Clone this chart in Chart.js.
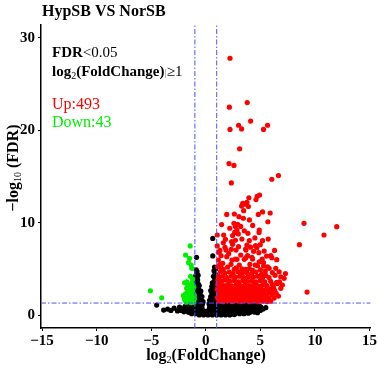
<!DOCTYPE html>
<html>
<head>
<meta charset="utf-8">
<script src="https://cdn.jsdelivr.net/npm/chart.js@4"></script>
<style>
  body { margin: 0; background: #fff; }
  #wrap { width: 378px; height: 369px; }
</style>
</head>
<body>
<div id="wrap"><canvas id="volcano" width="378" height="369"></canvas></div>
<script>
// volcano plot: HypSB vs NorSB
const xTicks = [-15, -10, -5, 0, 5, 10, 15];
const yTicks = [0, 10, 20, 30];
const xRange = [-15.1, 15.1];
const yRange = [-1.4, 31.4];
const fcCut = 1;      // |log2 FC| >= 1
const fdrCut = 0.05;  // FDR < 0.05
const upCount = 493;
const downCount = 43;

// up-regulated genes [log2FC, -log10 FDR]
const upGenes = [
  [2.22,27.8],[3.80,23.0],[2.16,22.5],[4.11,21.0],[3.01,20.55],[3.28,20.15],[2.22,20.1],[5.66,20.55],[5.29,20.1],
  [3.10,18.0],[2.13,16.4],[2.58,16.2],[6.66,15.1],[6.05,14.7],[2.34,14.3],[9.0,9.93],[12.0,9.57],[10.83,8.67],
  [8.58,7.62],[9.28,2.49],
  [4.93,13.0],[4.71,12.85],[4.6,12.5],[3.95,12.7],[3.77,12.2],[3.38,12.1],[3.28,11.8],[3.62,12.0],[3.9,11.75],
  [3.47,11.3],[1.92,10.9],[2.62,10.94],[3.04,10.65],[3.44,10.48],[4.81,10.9],[5.2,11.16],[5.9,11.05],[5.69,10.1],
  [2.58,9.93],[2.92,9.83],[2.71,9.6],[2.86,9.2],[2.65,8.95],[3.53,9.13],[3.86,8.85],[4.9,9.2],[4.88,8.95],
  [1.05,8.67],[1.64,8.67],[2.46,8.6],[2.98,8.78],[5.72,8.23],[3.31,8.23],[4.0,10.3],[3.2,9.6],[2.2,9.4],
  [4.3,9.7],[1.45,9.8],
  [2.71,8.1],[3.99,8.05],[5.2,8.05],[1.76,7.33],[1.61,7.83],[2.37,7.94],[1.05,7.48],[1.85,7.04],[2.77,7.04],
  [3.68,7.04],[4.68,7.29],[5.35,6.93],[2.46,7.66],[3.77,7.58],[4.56,7.51],[4.99,7.62],[2.34,7.12],[3.65,7.15],
  [4.38,6.9],[4.86,6.75],[5.57,6.39],[5.96,6.43],[5.17,6.07],[3.83,6.43],[4.23,6.25],[3.53,6.03],[1.4,6.43],
  [1.92,6.32],[2.71,6.07],[3.68,6.21],[4.29,6.07],[4.9,5.77],[6.05,6.21],[1.16,5.96],[2.4,5.96],[2.86,6.03],
  [1.55,5.6],[2.31,5.49],[3.07,5.42],[4.04,5.49],[4.74,5.34],[5.66,5.23],[6.41,5.06],[1.09,5.23],[2.8,5.1],
  [3.99,5.02],[4.53,5.42],[5.29,5.67],[5.81,5.06],[6.72,4.69],[6.87,4.15],[7.18,3.98],[7.02,3.25],[6.87,2.89],
  [6.66,2.06],[6.27,1.84],[1.4,5.12],[1.16,4.22],[1.09,3.33],
  [1.3,5.5],[2.0,5.2],[3.3,5.0],[4.3,4.85],[5.0,4.9],[1.6,4.95],[2.6,4.95],[3.65,4.95],[5.45,4.75],[6.1,4.6],
  [6.2,3.0],[6.75,3.6],[5.3,5.3],[2.1,6.65],[3.2,6.5],[3.0,7.4],[4.1,7.35],[1.3,7.0],[1.8,8.2],[4.5,8.35],
  [6.3,7.0],[6.5,6.0],[7.3,4.5],[1.15,6.8],
  [1.35,4.7],[1.75,4.55],[2.15,4.65],[2.5,4.5],[2.95,4.7],[3.35,4.55],[3.75,4.6],[4.2,4.5],[4.6,4.65],[5.1,4.4],[5.5,4.3],
  [1.2,4.1],[1.55,4.2],[1.95,4.05],[2.35,4.2],[2.7,4.1],[3.1,4.2],[3.5,4.05],[3.9,4.15],[4.35,4.1],[4.75,4.2],
  [5.2,4.0],[5.8,4.05],[6.35,4.3],
  [1.1,3.75],[1.45,3.65],[1.8,3.8],[2.2,3.65],[2.6,3.75],[3.0,3.6],[3.4,3.75],[3.8,3.65],[4.2,3.7],[4.6,3.6],
  [5.0,3.75],[5.4,3.6],[5.95,3.65],[6.5,3.55],
  [1.25,3.25],[1.65,3.2],[2.0,3.3],[2.4,3.15],[2.8,3.3],[3.2,3.2],[3.6,3.3],[4.0,3.2],[4.4,3.3],[4.8,3.15],
  [5.2,3.25],[5.6,3.2],[6.1,3.3],[6.55,3.4],
  [1.3,3.0],[1.7,3.02],[2.1,2.98],[2.5,3.02],[2.9,3.0],[3.3,2.98],[3.7,3.02],[4.1,3.0],[4.5,2.98],[4.9,3.02],
  [1.05,2.8],[1.45,2.75],[1.85,2.85],[2.25,2.75],[2.65,2.85],[3.05,2.7],[3.45,2.85],[3.85,2.75],[4.25,2.85],
  [4.65,2.7],[5.05,2.8],[5.45,2.75],[5.85,2.85],[6.3,2.7],
  [1.4,2.55],[1.8,2.58],[2.2,2.52],[2.6,2.56],[3.0,2.55],[3.4,2.53],[3.8,2.57],[4.2,2.55],[4.6,2.52],[5.0,2.56],
  [5.4,2.55],[5.8,2.6],
  [1.2,2.35],[1.6,2.3],[2.0,2.4],[2.4,2.3],[2.8,2.4],[3.2,2.3],[3.6,2.4],[4.0,2.3],[4.4,2.4],[4.8,2.3],
  [5.2,2.4],[5.6,2.3],[6.0,2.4],[6.45,2.35],
  [1.2,2.12],[1.6,2.1],[2.0,2.15],[2.4,2.08],[2.8,2.12],[3.2,2.1],[3.6,2.12],[4.0,2.1],[4.4,2.12],[4.8,2.1],
  [5.2,2.12],[5.6,2.1],
  [1.05,1.9],[1.4,1.95],[1.8,1.85],[2.2,1.95],[2.6,1.85],[3.0,1.95],[3.4,1.85],[3.8,1.95],[4.2,1.85],[4.6,1.95],
  [5.0,1.85],[5.4,1.95],[5.8,1.85],[6.1,2.2],
  [1.4,1.7],[1.8,1.68],[2.2,1.72],[2.6,1.7],[3.0,1.68],[3.4,1.72],[3.8,1.7],[4.2,1.7],[4.6,1.68],[5.0,1.72],[5.4,1.7],
  [1.2,1.5],[1.6,1.45],[2.0,1.55],[2.4,1.45],[2.8,1.55],[3.2,1.45],[3.6,1.55],[4.0,1.45],[4.4,1.55],[4.8,1.45],
  [5.2,1.5],[5.6,1.45],[5.95,1.5]
];

// down-regulated genes
const downGenes = [
  [-5.08,2.63],[-4.04,1.87],
  [-1.43,7.48],[-1.85,6.5],[-1.49,6.14],[-1.58,5.67],[-1.34,5.42],[-1.28,5.06],[-1.94,3.5],[-1.28,3.5],
  [-1.43,3.07],[-1.75,2.9],[-1.2,2.7],[-1.6,2.6],[-1.35,2.45],[-1.85,2.3],[-1.1,2.25],[-1.5,2.15],[-1.25,1.95],
  [-1.7,1.9],[-1.05,1.75],[-1.45,1.7],[-1.9,1.6],[-1.2,1.5],[-1.6,1.45],[-1.35,1.35],[-1.1,1.4],[-1.8,1.4],
  [-1.5,2.6],[-1.15,3.2],[-1.65,3.3],[-1.5,2.95],[-1.3,2.25],[-1.95,1.75],[-2.05,2.1],[-1.7,2.4],[-1.1,3.0],
  [-1.55,1.9],[-1.3,1.65],[-1.05,2.1],[-1.75,3.6],[-1.2,3.9],[-1.4,4.2]
];

// not significant
const otherGenes = [
  [-4.5,1.08],[-3.86,0.54],[-3.5,0.65],[-3.2,0.5],[-2.9,0.75],[-2.6,0.45],[-2.4,0.85],[-2.2,0.6],[-2.0,0.35],
  [-1.9,0.95],[-1.75,0.55],[-1.6,1.15],[-1.5,0.3],[-1.4,0.75],[-1.3,1.2],[-1.2,0.45],
  [-1.1,1.2],[-0.7,1.2],[-0.3,1.2],[0.3,1.2],[0.7,1.2],[1.1,1.2],[1.5,1.2],[1.9,1.2],[2.3,1.2],[2.7,1.2],
  [3.1,1.2],[3.5,1.2],[3.9,1.2],[4.3,1.2],[4.7,1.15],
  [-1.7,1.03],[-1.3,1.03],[-0.9,1.03],[-0.5,1.03],[0.5,1.03],[0.9,1.03],[1.3,1.03],[1.7,1.03],[2.1,1.03],
  [2.5,1.03],[2.9,1.03],[3.3,1.03],[3.7,1.03],[4.1,1.03],[4.5,1.03],[4.9,1.0],
  [-1.9,0.85],[-1.5,0.85],[-1.1,0.85],[-0.7,0.85],[-0.35,0.85],[0.35,0.85],[0.7,0.85],[1.05,0.85],[1.45,0.85],
  [1.85,0.85],[2.25,0.85],[2.65,0.85],[3.05,0.85],[3.45,0.85],[3.85,0.85],[4.25,0.85],[4.65,0.85],[5.05,0.85],
  [5.5,0.8],
  [-2.1,0.68],[-1.6,0.68],[-1.2,0.68],[-0.8,0.68],[-0.45,0.68],[0.45,0.68],[0.85,0.68],[1.25,0.68],[1.65,0.68],
  [2.05,0.68],[2.45,0.68],[2.85,0.68],[3.25,0.68],[3.65,0.68],[4.05,0.68],[4.45,0.68],[4.85,0.68],[5.25,0.65],
  [-2.3,0.5],[-1.8,0.5],[-1.4,0.5],[-1.0,0.5],[-0.6,0.5],[-0.25,0.5],[0.25,0.5],[0.6,0.5],[1.0,0.5],[1.4,0.5],
  [1.8,0.5],[2.2,0.5],[2.6,0.5],[3.0,0.5],[3.4,0.5],[3.8,0.5],[4.2,0.5],[4.6,0.45],[5.0,0.5],
  [-1.6,0.32],[-1.1,0.32],[-0.7,0.32],[-0.3,0.32],[0.1,0.32],[0.5,0.32],[0.9,0.32],[1.3,0.32],[1.7,0.32],
  [2.1,0.32],[2.5,0.32],[2.9,0.32],[3.3,0.32],[3.7,0.32],[4.1,0.32],[4.45,0.32],
  [-1.3,0.15],[-0.9,0.15],[-0.5,0.15],[-0.1,0.15],[0.3,0.15],[0.7,0.15],[1.1,0.15],[1.5,0.15],[1.9,0.15],
  [2.3,0.15],[2.7,0.15],[3.1,0.15],[3.5,0.15],[3.9,0.2],[4.74,0.25],[0.05,0.4],
  [-0.6,0.02],[-0.2,0.02],[0.2,0.02],[0.6,0.02],[1.0,0.02],[1.4,0.02],[1.8,0.02],[2.2,0.02],[2.6,0.05],
  [-1.0,1.6],[-0.7,1.6],[-0.4,1.6],[-0.95,2.0],[-0.65,2.0],[-0.35,2.0],[-0.9,2.4],[-0.6,2.4],[-0.95,2.8],
  [-0.65,2.8],[-0.85,3.2],[-0.6,3.2],[-0.9,3.6],[-0.8,4.0],[-0.85,4.5],[-0.88,4.9],[-0.85,6.25],
  [-1.1,1.45],[-0.85,1.8],[-0.55,1.8],[-0.25,1.45],[-1.05,2.2],[-0.8,2.2],[-0.5,2.2],[-0.75,2.6],[-1.0,2.6],
  [-0.45,2.6],[-0.8,3.0],[-1.0,3.4],[-0.7,3.4],[-0.75,3.8],[-0.95,4.2],[-0.7,4.3],[-0.8,4.7],
  [0.35,1.6],[0.65,1.6],[0.95,1.6],[0.45,2.0],[0.8,2.0],[0.55,2.4],[0.9,2.4],[0.6,2.8],[0.9,2.8],[0.7,3.2],
  [0.95,3.2],[0.75,3.6],[0.8,4.0],[0.85,4.5],[0.8,5.2],[0.64,6.4],[0.64,8.3],
  [0.5,1.45],[0.8,1.8],[0.5,1.8],[0.65,2.2],[0.95,2.15],[0.75,2.6],[0.45,2.65],[0.8,3.0],[0.55,3.1],[0.85,3.4],
  [0.6,3.5],[0.9,3.8],[0.7,4.2],[0.95,4.3],[0.75,4.8],[0.9,5.0]
];

const toXY = (arr) => arr.map((p) => ({ x: p[0], y: p[1] }));
const fdrLine = -Math.log10(fdrCut);

const serif = "'Liberation Serif', 'Times New Roman', serif";

function drawRuns(ctx, x, y, runs) {
  runs.forEach((r) => {
    ctx.font = r.f;
    ctx.fillStyle = r.c || "#000";
    ctx.fillText(r.t, x, y + (r.dy || 0));
    x += ctx.measureText(r.t).width;
  });
}
function runsWidth(ctx, runs) {
  let w = 0;
  runs.forEach((r) => {
    ctx.font = r.f;
    w += ctx.measureText(r.t).width;
  });
  return w;
}

const textPlugin = {
  id: "texts",
  afterDraw(chart) {
    const ctx = chart.ctx;
    ctx.save();
    ctx.textBaseline = "alphabetic";
    ctx.textAlign = "left";

    // title
    drawRuns(ctx, 42, 16, [{ t: "HypSB VS NorSB", f: "bold 16px " + serif }]);

    // annotations
    drawRuns(ctx, 52, 57, [
      { t: "FDR", f: "bold 15px " + serif },
      { t: "<0.05", f: "15px " + serif },
    ]);
    drawRuns(ctx, 52, 76, [
      { t: "log", f: "bold 15px " + serif },
      { t: "2", f: "10px " + serif, dy: 3 },
      { t: "(FoldChange)", f: "bold 15px " + serif },
      { t: "|", f: "11px " + serif, c: "#888" },
      { t: "≥1", f: "15px " + serif },
    ]);
    drawRuns(ctx, 52, 109, [{ t: "Up:" + upCount, f: "16px " + serif, c: "#ff0000" }]);
    drawRuns(ctx, 52, 127, [{ t: "Down:" + downCount, f: "16px " + serif, c: "#00ee00" }]);

    // x axis title
    const xr = [
      { t: "log", f: "bold 16px " + serif },
      { t: "2", f: "10px " + serif, dy: 3 },
      { t: "(FoldChange)", f: "bold 16px " + serif },
    ];
    drawRuns(ctx, 206 - runsWidth(ctx, xr) / 2, 360, xr);

    // y axis title
    const yr = [
      { t: "−log", f: "bold 16px " + serif },
      { t: "10", f: "10px " + serif, dy: 3 },
      { t: " (FDR)", f: "bold 16px " + serif },
    ];
    ctx.translate(18, 168);
    ctx.rotate(-Math.PI / 2);
    drawRuns(ctx, -runsWidth(ctx, yr) / 2, 0, yr);
    ctx.restore();
  },
};

const cutStyle = {
  type: "scatter",
  showLine: true,
  pointRadius: 0,
  borderColor: "rgb(80,80,255)",
  borderWidth: 1,
  borderDash: [5, 2, 1.5, 2],
  order: 0,
};

new Chart(document.getElementById("volcano"), {
  type: "scatter",
  data: {
    datasets: [
      { ...cutStyle, data: [{ x: -fcCut, y: yRange[0] }, { x: -fcCut, y: yRange[1] }] },
      { ...cutStyle, data: [{ x: fcCut, y: yRange[0] }, { x: fcCut, y: yRange[1] }] },
      { ...cutStyle, data: [{ x: xRange[0], y: fdrLine }, { x: xRange[1], y: fdrLine }] },
      {
        label: "Up",
        data: toXY(upGenes),
        backgroundColor: "#ff0000",
        pointRadius: 2.6,
        borderWidth: 0,
        order: 1,
      },
      {
        label: "Down",
        data: toXY(downGenes),
        backgroundColor: "#00ee00",
        pointRadius: 2.6,
        borderWidth: 0,
        order: 2,
      },
      {
        label: "NoDiff",
        data: toXY(otherGenes),
        backgroundColor: "#000000",
        pointRadius: 2.6,
        borderWidth: 0,
        order: 3,
      },
    ],
  },
  options: {
    responsive: false,
    animation: false,
    layout: { padding: { top: 25, right: 6, left: 0, bottom: 0 } },
    plugins: {
      legend: { display: false },
      tooltip: { enabled: false },
      title: { display: false },
    },
    scales: {
      x: {
        type: "linear",
        min: xRange[0],
        max: xRange[1],
        afterBuildTicks: (scale) => {
          scale.ticks = xTicks.map((v) => ({ value: v }));
        },
        afterFit: (scale) => {
          scale.height = 41;
        },
        grid: { drawOnChartArea: false, drawTicks: true, tickLength: 3, color: "#000", lineWidth: 1 },
        border: { display: true, color: "#000", width: 1.5 },
        ticks: {
          color: "#000",
          padding: 1,
          maxRotation: 0,
          font: { family: serif, size: 15, weight: "bold" },
          callback: (v) => String(v).replace("-", "−"),
        },
      },
      y: {
        type: "linear",
        min: yRange[0],
        max: yRange[1],
        afterBuildTicks: (scale) => {
          scale.ticks = yTicks.map((v) => ({ value: v }));
        },
        afterFit: (scale) => {
          scale.width = 41;
        },
        grid: { drawOnChartArea: false, drawTicks: true, tickLength: 3, color: "#000", lineWidth: 1 },
        border: { display: true, color: "#000", width: 1.5 },
        ticks: {
          color: "#000",
          padding: 3,
          font: { family: serif, size: 15, weight: "bold" },
        },
      },
    },
  },
  plugins: [textPlugin],
});
</script>
</body>
</html>
